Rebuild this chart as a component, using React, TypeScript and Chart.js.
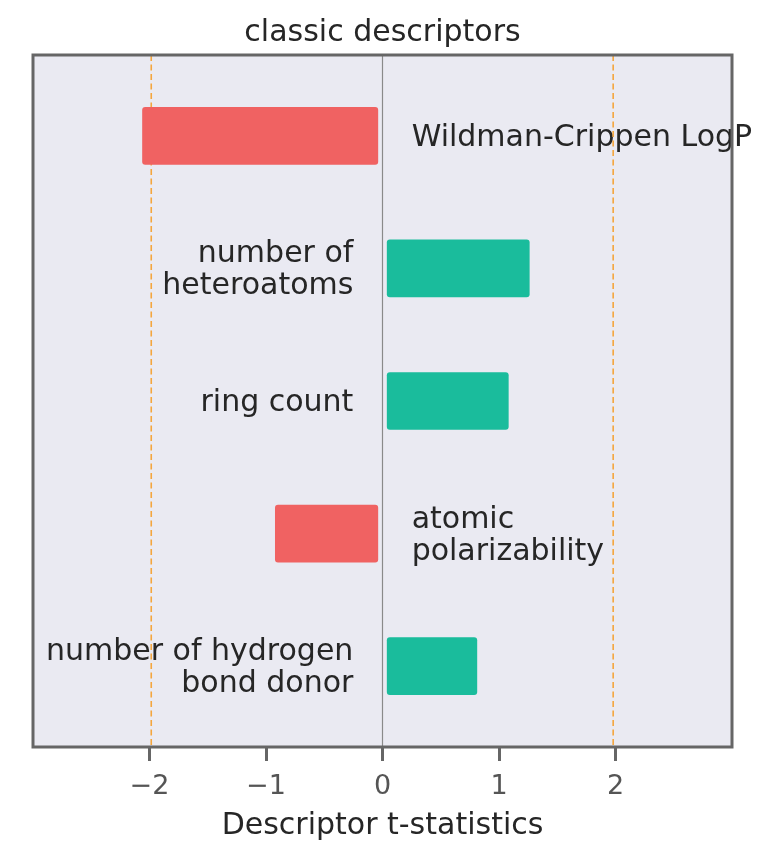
import React, { useEffect, useRef } from "react";
import { Chart, registerables } from "chart.js";

Chart.register(...registerables);

const descriptors = [
  "Wildman-Crippen LogP",
  "number of\nheteroatoms",
  "ring count",
  "atomic\npolarizability",
  "number of hydrogen\nbond donor",
];
const tStatistics = [-2.06, 1.26, 1.08, -0.92, 0.81];
const criticalValues = [-1.985, 1.98];
const xTickValues = [-2, -1, 0, 1, 2];

const TITLE = "classic descriptors";
const X_TITLE = "Descriptor t-statistics";
const FONT = "'DejaVu Sans', sans-serif";
const RED = "#F06262";
const GREEN = "#1ABC9C";
const TEXT = "#262626";
const BAR_GAP = 0.04;
const LABEL_OFFSET = 0.25;

const decorPlugin = {
  id: "decor",
  beforeDraw(chart: any) {
    const { ctx, chartArea: a } = chart;
    ctx.save();
    ctx.fillStyle = "#ffffff";
    ctx.fillRect(0, 0, chart.width, chart.height);
    ctx.fillStyle = "#EAEAF2";
    ctx.fillRect(a.left, a.top, a.right - a.left, a.bottom - a.top);
    ctx.restore();
  },
  beforeDatasetsDraw(chart: any) {
    const { ctx, chartArea: a, scales } = chart;
    const xs = scales.x;
    const ys = scales.y;
    const x0 = xs.getPixelForValue(0);
    ctx.save();
    ctx.strokeStyle = "#8a8a8a";
    ctx.lineWidth = 1.2;
    ctx.beginPath();
    ctx.moveTo(x0, a.top);
    ctx.lineTo(x0, a.bottom);
    ctx.stroke();

    ctx.font = `30px ${FONT}`;
    ctx.fillStyle = TEXT;
    ctx.textBaseline = "alphabetic";
    descriptors.forEach((label, i) => {
      const v = tStatistics[i];
      const lines = label.split("\n");
      const cy = ys.getPixelForValue(i);
      const neg = v < 0;
      const px = xs.getPixelForValue(neg ? LABEL_OFFSET : -LABEL_OFFSET);
      ctx.textAlign = neg ? "left" : "right";
      lines.forEach((ln, k) => {
        const by = cy + 10 + (k - (lines.length - 1) / 2) * 32;
        ctx.fillText(ln, px, by);
      });
    });

    ctx.strokeStyle = "#F4A63E";
    ctx.lineWidth = 1.6;
    ctx.setLineDash([6, 3.5]);
    criticalValues.forEach((c) => {
      const px = xs.getPixelForValue(c);
      ctx.beginPath();
      ctx.moveTo(px, a.top);
      ctx.lineTo(px, a.bottom);
      ctx.stroke();
    });
    ctx.restore();
  },
  afterDatasetsDraw(chart: any) {
    const { ctx, chartArea: a } = chart;
    ctx.save();
    ctx.strokeStyle = "#666666";
    ctx.lineWidth = 3;
    ctx.strokeRect(a.left, a.top, a.right - a.left, a.bottom - a.top);
    ctx.restore();
  },
};

export default function App() {
  const ref = useRef<HTMLCanvasElement | null>(null);
  useEffect(() => {
    if (!ref.current) return;
    const chart = new Chart(ref.current, {
      type: "bar",
      data: {
        datasets: [
          {
            data: tStatistics.map((v, i) => ({
              x: [v < 0 ? -BAR_GAP : BAR_GAP, v],
              y: i,
            })) as any,
            backgroundColor: tStatistics.map((v) => (v < 0 ? RED : GREEN)),
            borderWidth: 0,
            borderRadius: 3,
            borderSkipped: false,
            barThickness: 57,
          },
        ],
      },
      options: {
        indexAxis: "y",
        animation: false,
        responsive: false,
        maintainAspectRatio: false,
        devicePixelRatio: 1,
        layout: { padding: { left: 33, right: 38, top: 0, bottom: 0 } },
        plugins: {
          legend: { display: false },
          tooltip: { enabled: false },
          title: {
            display: true,
            text: TITLE,
            color: TEXT,
            font: { family: FONT, size: 30, weight: "normal" },
            padding: { top: 15, bottom: 4 },
          },
        },
        scales: {
          x: {
            type: "linear",
            min: -3,
            max: 3,
            offset: false,
            afterBuildTicks: (scale: any) => {
              scale.ticks = xTickValues.map((v) => ({ value: v }));
            },
            afterFit: (scale: any) => {
              scale.height = 110;
            },
            border: { display: false },
            grid: {
              drawOnChartArea: false,
              drawTicks: true,
              tickLength: 14,
              tickWidth: 3,
              tickColor: "#666666",
              offset: false,
            },
            ticks: {
              autoSkip: false,
              maxRotation: 0,
              padding: 10,
              color: "#555555",
              font: { family: FONT, size: 27 },
              callback: (v: any) =>
                (Number(v) < 0 ? "\u2212" : "") + Math.abs(Number(v)),
            },
            title: {
              display: true,
              text: X_TITLE,
              color: TEXT,
              font: { family: FONT, size: 30 },
              padding: { top: 0, bottom: 13 },
            },
          },
          y: {
            type: "linear",
            display: false,
            reverse: true,
            offset: false,
            grid: { offset: false },
            min: -0.61,
            max: 4.61,
          },
        },
      },
      plugins: [decorPlugin],
    } as any);
    return () => chart.destroy();
  }, []);
  return (
    <div style={{ position: "absolute", left: 0, top: 0, width: 770, height: 857 }}>
      <canvas ref={ref} width={770} height={857} style={{ display: "block", width: 770, height: 857 }} />
    </div>
  );
}
